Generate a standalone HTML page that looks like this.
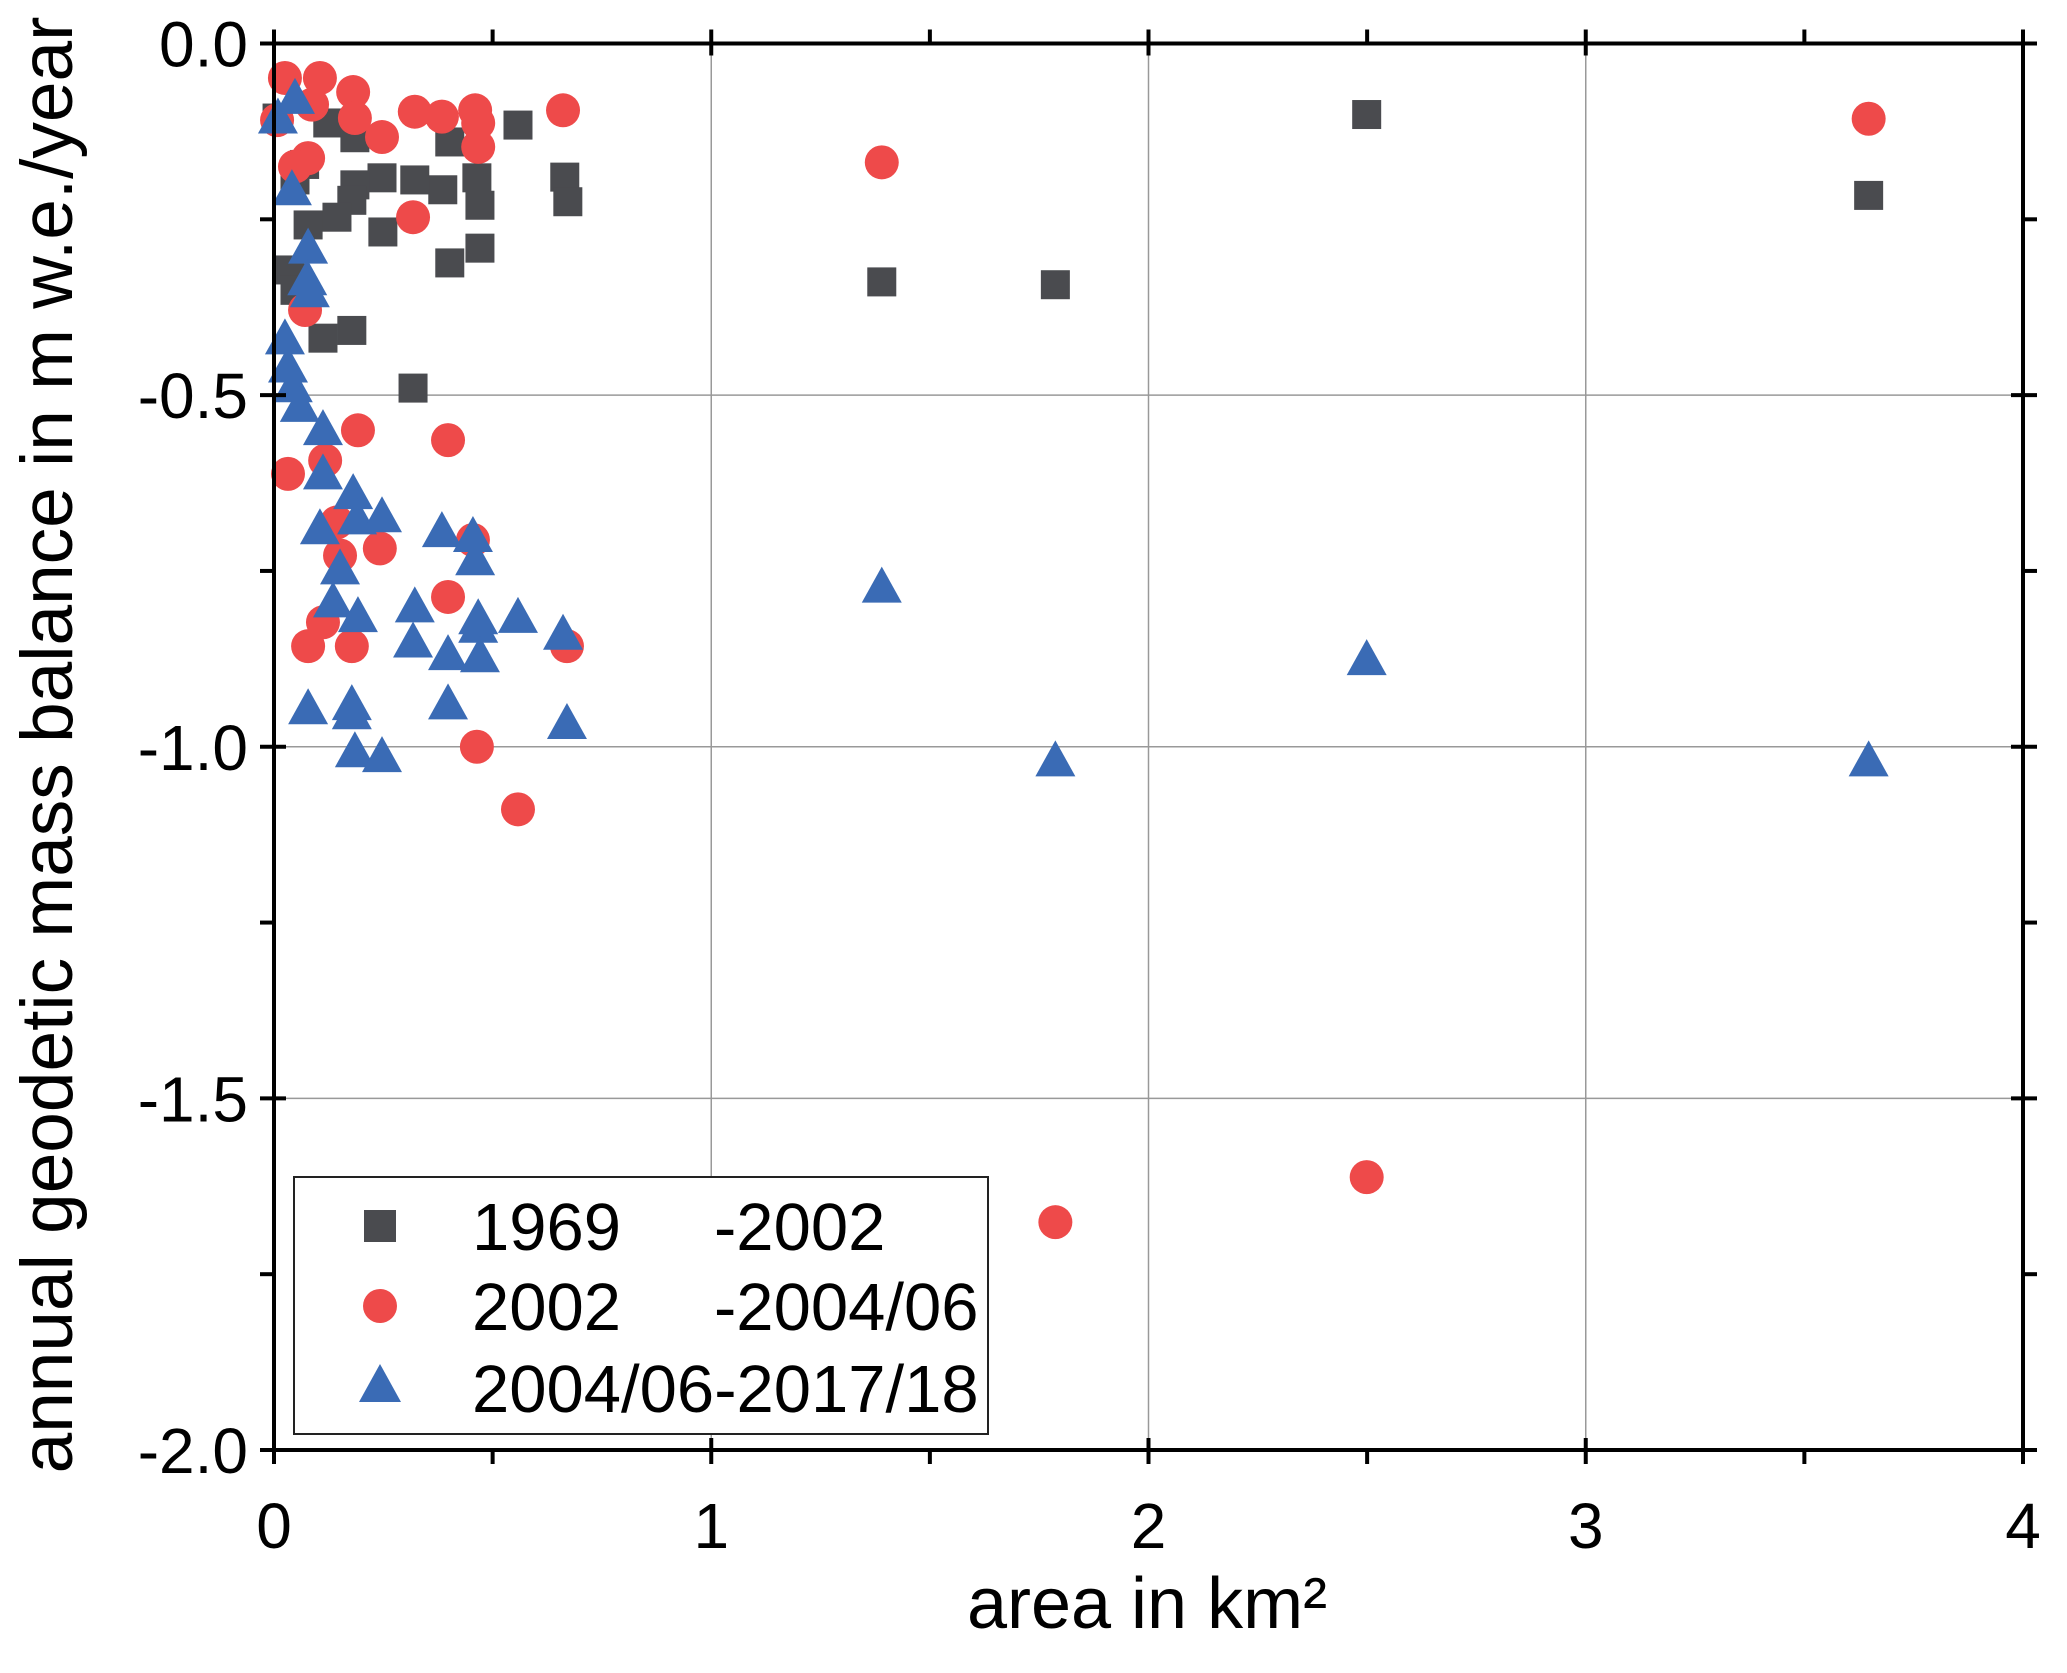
<!DOCTYPE html>
<html><head><meta charset="utf-8">
<style>
html,body{margin:0;padding:0;background:#fff;}
svg{display:block;font-family:"Liberation Sans",Arial,sans-serif;}
</style></head>
<body>
<svg id="chart" width="2067" height="1673" viewBox="0 0 2067 1673" xmlns="http://www.w3.org/2000/svg">
<g id="grid"></g>
<g id="marks"></g>
<g id="axes"></g>
<text x="0" y="0" transform="translate(72,745) rotate(-90)" text-anchor="middle" font-size="73">annual geodetic mass balance in m w.e./year</text>
<text x="1147" y="1628" text-anchor="middle" font-size="72">area in km²</text>
<g>
<rect x="294" y="1177" width="694" height="257" fill="#fff" stroke="#222" stroke-width="2"/>
<rect x="364" y="1210" width="32" height="32" fill="#4a4b4f"/>
<text x="472" y="1250" font-size="67">1969</text>
<text x="714" y="1250" font-size="67">-2002</text>
<circle cx="380" cy="1306" r="17" fill="#ee4a4a"/>
<text x="472" y="1330" font-size="67">2002</text>
<text x="714" y="1330" font-size="67">-2004/06</text>
<polygon points="380,1364 359,1402 401,1402" fill="#3a6bb5"/>
<text x="472" y="1412" font-size="67">2004/06-2017/18</text>
</g>
</svg>
<script>
const xTicks = [0,1,2,3,4];
const yTicks = [0.0,-0.5,-1.0,-1.5,-2.0];
const yTickLabels = ["0.0","-0.5","-1.0","-1.5","-2.0"];
const sqX = [0.007,0.123,0.185,0.558,0.402,0.665,0.672,0.464,0.471,0.386,0.322,0.247,0.185,0.178,0.144,0.078,0.048,0.249,0.402,0.471,0.037,0.048,0.112,0.178,0.318,0.07,1.39,1.787,2.499,3.647];
const sqY = [-0.106,-0.113,-0.134,-0.116,-0.140,-0.190,-0.225,-0.191,-0.230,-0.208,-0.194,-0.191,-0.201,-0.223,-0.247,-0.258,-0.194,-0.268,-0.312,-0.291,-0.322,-0.351,-0.419,-0.408,-0.490,-0.172,-0.339,-0.343,-0.101,-0.216];
const ciX = [0.025,0.105,0.181,0.087,0.007,0.185,0.247,0.322,0.384,0.46,0.467,0.467,0.661,0.078,0.048,0.318,0.071,0.192,0.398,0.032,0.117,0.398,0.144,0.151,0.242,0.455,0.112,0.078,0.178,0.67,0.464,0.558,1.39,1.787,2.499,3.647];
const ciY = [-0.049,-0.049,-0.069,-0.087,-0.109,-0.106,-0.133,-0.097,-0.104,-0.095,-0.113,-0.147,-0.095,-0.163,-0.175,-0.247,-0.379,-0.55,-0.564,-0.612,-0.593,-0.787,-0.681,-0.728,-0.718,-0.706,-0.823,-0.857,-0.857,-0.857,-1.0,-1.089,-0.169,-1.676,-1.612,-0.107];
const trX = [0.009,0.048,0.041,0.078,0.076,0.082,0.025,0.032,0.043,0.059,0.112,0.112,0.181,0.19,0.247,0.105,0.384,0.455,0.46,0.151,0.135,0.192,0.322,0.318,0.467,0.467,0.398,0.471,0.558,0.661,0.078,0.178,0.178,0.398,0.67,0.185,0.247,1.39,1.787,2.499,3.647];
const trY = [-0.111,-0.083,-0.213,-0.296,-0.341,-0.358,-0.425,-0.465,-0.493,-0.521,-0.554,-0.617,-0.645,-0.681,-0.678,-0.695,-0.699,-0.706,-0.739,-0.752,-0.799,-0.82,-0.806,-0.856,-0.823,-0.835,-0.874,-0.877,-0.821,-0.845,-0.951,-0.945,-0.958,-0.944,-0.972,-1.012,-1.019,-0.778,-1.025,-0.881,-1.025];

const NS="http://www.w3.org/2000/svg";
const L=274,R=2023,T=43.5,B=1450;
const xS=v=>L+(v-0)/4*(R-L);
const yS=v=>T+(0-v)/2*(B-T);
function mk(tag,attrs,parent){const e=document.createElementNS(NS,tag);for(const k in attrs)e.setAttribute(k,attrs[k]);parent.appendChild(e);return e;}
const grid=document.getElementById('grid'),marks=document.getElementById('marks'),axes=document.getElementById('axes');
xTicks.forEach(v=>{if(v===0||v===4)return;const g=mk('line',{x1:xS(v),x2:xS(v),y1:T,y2:B,stroke:'#999','stroke-width':1.5},grid);

});
yTicks.forEach(v=>{if(v===0||v===-2)return;const g=mk('line',{x1:L,x2:R,y1:yS(v),y2:yS(v),stroke:'#999','stroke-width':1.5},grid);

});
sqX.forEach((x,i)=>{const e=mk('rect',{x:xS(x)-14.5,y:yS(sqY[i])-14.5,width:29,height:29,fill:'#4a4b4f'},marks);

});
ciX.forEach((x,i)=>{const e=mk('circle',{cx:xS(x),cy:yS(ciY[i]),r:17,fill:'#ee4a4a'},marks);

});
trX.forEach((x,i)=>{const cx=xS(x),cy=yS(trY[i]);const e=mk('polygon',{points:`${cx},${cy-24} ${cx-20},${cy+12} ${cx+20},${cy+12}`,fill:'#3a6bb5'},marks);

});
const fr=mk('rect',{x:L,y:T,width:R-L,height:B-T,fill:'none',stroke:'#000','stroke-width':4},axes);


xTicks.forEach((v,i)=>{const x=xS(v);
[[B-12,B+14],[T-14,T+12]].forEach(p=>{const t=mk('line',{x1:x,x2:x,y1:p[0],y2:p[1],stroke:'#000','stroke-width':4},axes);

});
const lb=mk('text',{x:x,y:B+98,'text-anchor':'middle','font-size':64},axes);lb.textContent=v;


if(i<xTicks.length-1){const m=xS(v+0.5);[[B,B+14],[T-14,T]].forEach(p=>{const t=mk('line',{x1:m,x2:m,y1:p[0],y2:p[1],stroke:'#000','stroke-width':4},axes);

});}
});
yTicks.forEach((v,i)=>{const y=yS(v);
[[L-14,L+12],[R-12,R+14]].forEach(p=>{const t=mk('line',{x1:p[0],x2:p[1],y1:y,y2:y,stroke:'#000','stroke-width':4},axes);

});
const lb=mk('text',{x:L-26,y:y+23,'text-anchor':'end','font-size':64},axes);lb.textContent=yTickLabels[i];


if(i<yTicks.length-1){const m=yS(v-0.25);[[L-14,L],[R,R+14]].forEach(p=>{const t=mk('line',{x1:p[0],x2:p[1],y1:m,y2:m,stroke:'#000','stroke-width':4},axes);

});}
});
</script>
</body></html>
